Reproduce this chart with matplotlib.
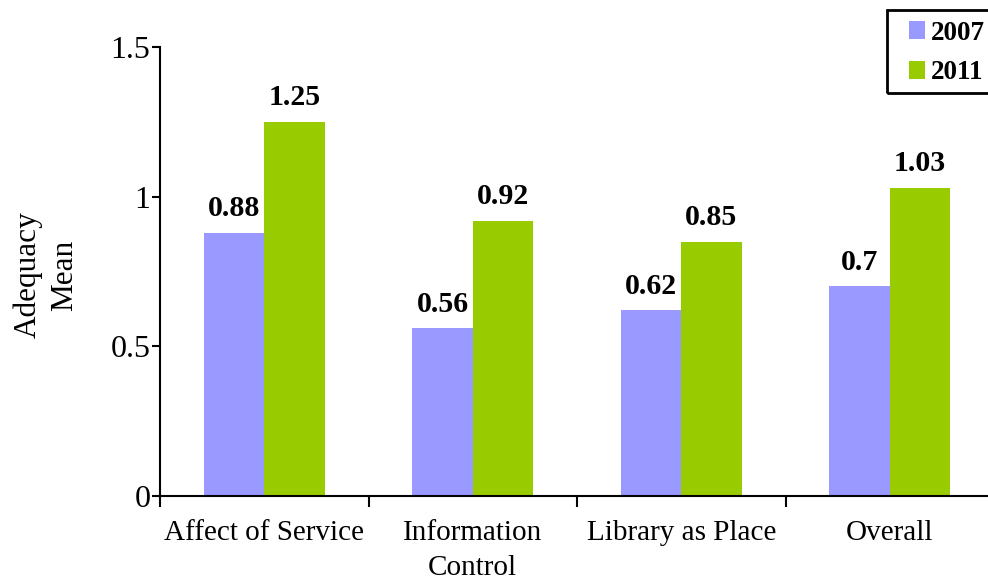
import matplotlib
matplotlib.use("Agg")
import matplotlib.pyplot as plt
from matplotlib.patches import Rectangle
import numpy as np

categories = ["Affect of Service", "Information\nControl", "Library as Place", "Overall"]
series_names = ["2007", "2011"]
values_2007 = [0.88, 0.56, 0.62, 0.70]
values_2011 = [1.25, 0.92, 0.85, 1.03]
labels_2007 = ["0.88", "0.56", "0.62", "0.7"]
labels_2011 = ["1.25", "0.92", "0.85", "1.03"]
yticks = [0, 0.5, 1, 1.5]
ytick_labels = ["0", "0.5", "1", "1.5"]

plt.rcParams['font.family'] = ['Liberation Serif', 'DejaVu Serif']

W, H = 988, 580
fig = plt.figure(figsize=(W/100, H/100), dpi=100)
ax = fig.add_axes([160/W, (H-496)/H, 834/W, (496-47)/H])

x = np.arange(len(categories)) + 0.5
w = 0.29
c07 = '#9999ff'
c11 = '#99cc00'
b1 = ax.bar(x - w/2, values_2007, w, color=c07, label=series_names[0])
b2 = ax.bar(x + w/2, values_2011, w, color=c11, label=series_names[1])

for xi, v, t in zip(x - w/2, values_2007, labels_2007):
    ax.text(xi, v + 0.035, t, ha='center', va='bottom', fontsize=21.5, fontweight='bold')
for xi, v, t in zip(x + w/2, values_2011, labels_2011):
    ax.text(xi, v + 0.035, t, ha='center', va='bottom', fontsize=21.5, fontweight='bold')

ax.set_xlim(0, 4)
ax.set_ylim(0, 1.5)
ax.set_yticks(yticks)
ax.set_yticklabels(ytick_labels, fontsize=23)
ax.set_xticks([0, 1, 2, 3, 4])
ax.set_xticklabels([])
ax.set_xticks(x, minor=True)
ax.set_xticklabels(categories, minor=True, fontsize=21, linespacing=1.45)
ax.tick_params(axis='x', which='minor', length=0, pad=17)
ax.tick_params(axis='x', which='major', length=8, width=1.5, direction='out')
ax.tick_params(axis='y', length=6, width=1.5, direction='out', pad=1)

for s in ['top', 'right']:
    ax.spines[s].set_visible(False)
for s in ['left', 'bottom']:
    ax.spines[s].set_linewidth(1.5)

fig.text(46/W, 1 - 275/H, "Adequacy\nMean", rotation=90, ha='center', va='center',
         fontsize=22.5, linespacing=1.35)

# legend box
fig.patches.append(Rectangle((887/W, 1 - 93/H), 104/W, 83/H, transform=fig.transFigure,
                             fill=False, edgecolor='black', linewidth=2))
leg = fig.legend(handles=[b1, b2], loc='center left', bbox_to_anchor=(906/W, 1 - 53/H),
                 prop={'weight': 'bold', 'size': 19.5}, frameon=False,
                 handlelength=0.6, handleheight=0.6, handletextpad=0.2, borderpad=0.1,
                 labelspacing=0.55, borderaxespad=0)

fig.savefig("out.png", dpi=100)
